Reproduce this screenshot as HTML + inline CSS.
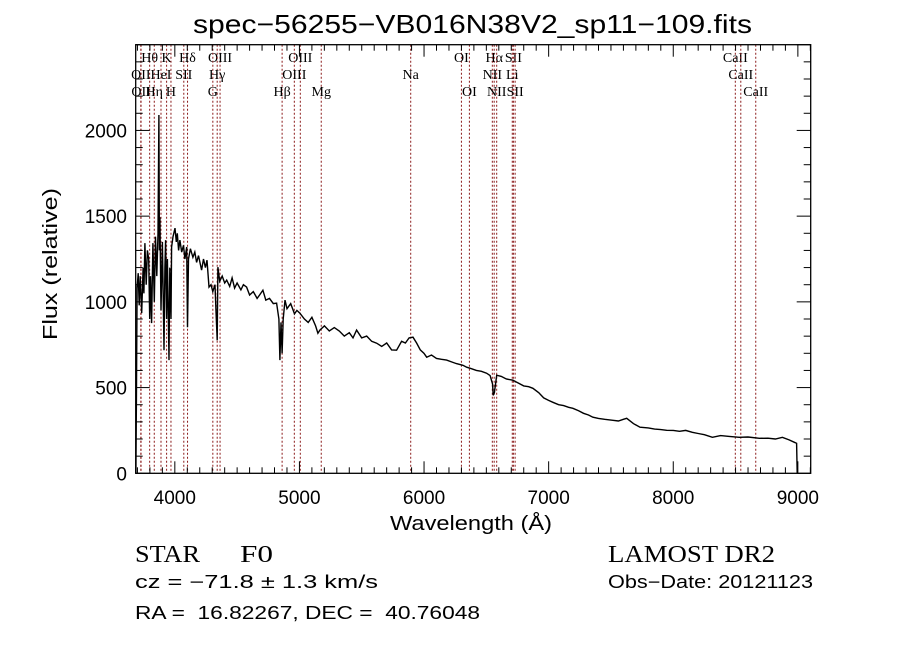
<!DOCTYPE html>
<html><head><meta charset="utf-8"><style>
html,body{margin:0;padding:0;background:#fff;}
svg{display:block;}
text{font-family:"Liberation Sans",sans-serif;fill:#000;}
.serif{font-family:"Liberation Serif",serif;}
</style></head><body>
<svg id="chart" width="900" height="649" viewBox="0 0 900 649" xmlns="http://www.w3.org/2000/svg">
<rect width="900" height="649" fill="#fff"/>
<text x="193" y="33" font-size="26" textLength="559" lengthAdjust="spacingAndGlyphs">spec−56255−VB016N38V2_sp11−109.fits</text>
<g id="lines"></g>
<g id="spec"></g>
<g id="axes"></g>
<text x="390" y="530" font-size="20" textLength="162" lengthAdjust="spacingAndGlyphs">Wavelength (Å)</text>
<text transform="translate(57,340) rotate(-90)" font-size="20" textLength="152" lengthAdjust="spacingAndGlyphs">Flux (relative)</text>
<text class="serif" x="135" y="562" font-size="24" textLength="65" lengthAdjust="spacingAndGlyphs">STAR</text>
<text class="serif" x="240" y="562" font-size="24" textLength="33" lengthAdjust="spacingAndGlyphs">F0</text>
<text class="serif" x="608" y="562" font-size="24" textLength="167" lengthAdjust="spacingAndGlyphs">LAMOST DR2</text>
<text x="135" y="588" font-size="18" textLength="243" lengthAdjust="spacingAndGlyphs">cz = −71.8 ± 1.3 km/s</text>
<text x="608" y="588" font-size="18" textLength="205" lengthAdjust="spacingAndGlyphs">Obs−Date: 20121123</text>
<text x="135" y="619" font-size="18" textLength="345" lengthAdjust="spacingAndGlyphs" style="white-space:pre">RA =  16.82267, DEC =  40.76048</text>
<script>
const wave = [3688,3692,3697,3706,3714,3722,3734,3745,3752,3760,3770,3780,3790,3798,3805,3814,3824,3835,3845,3855,3865,3872,3876,3880,3889,3900,3913,3920,3926,3934,3940,3953,3960,3969,3974,3985,4001,4012,4020,4030,4041,4055,4070,4081,4095,4102,4110,4125,4145,4160,4175,4190,4215,4230,4245,4258,4274,4290,4305,4322,4330,4340,4346,4360,4380,4400,4416,4440,4460,4480,4500,4530,4550,4576,4600,4630,4660,4680,4707,4730,4760,4790,4817,4835,4843,4852,4861,4870,4884,4900,4930,4960,4980,5004,5040,5070,5100,5130,5148,5164,5200,5240,5280,5320,5360,5400,5430,5459,5500,5540,5580,5620,5660,5700,5740,5780,5820,5850,5880,5911,5940,5970,6000,6021,6060,6100,6140,6181,6220,6260,6312,6342,6380,6420,6460,6502,6530,6550,6555,6565,6583,6620,6660,6713,6760,6800,6840,6874,6920,6960,7000,7034,7080,7120,7160,7195,7240,7280,7320,7355,7400,7450,7516,7560,7600,7626,7680,7733,7800,7850,7900,7947,8000,8050,8100,8153,8200,8250,8314,8380,8450,8530,8600,8691,8760,8820,8876,8930,8972,8990,8995];
const flux = [0,420,1080,1167,980,1150,934,1200,1050,1343,1100,1300,1250,900,1150,876,1343,1000,1380,1150,1400,2090,1300,1494,950,1350,718,1200,1360,900,1250,660,1200,900,1320,1380,1430,1350,1400,1300,1360,1290,1330,1250,1320,852,1250,1310,1260,1290,1230,1270,1185,1250,1200,1243,1086,1100,1060,1100,960,776,1203,1120,1150,1110,1127,1090,1140,1080,1110,1070,1100,1086,1040,1060,1020,1040,1068,1010,1020,990,992,900,660,880,700,900,1010,960,990,930,950,934,900,880,910,860,817,835,860,830,850,830,800,820,790,835,790,800,770,759,740,760,720,718,770,760,790,794,760,720,700,677,690,670,665,660,650,640,630,619,610,600,595,584,570,520,455,470,572,565,550,543,525,510,505,496,470,440,425,414,400,395,385,379,365,350,340,327,320,315,309,305,315,321,290,269,265,258,255,251,250,245,250,239,232,225,210,220,215,210,212,204,205,200,210,195,181,175,0];
const lineWaves = [3798,3934,4102,4363,5007,6300,6563,6717,8498,3727,3889,4072,4340,4959,5893,6548,6708,8542,3729,3835,3969,4305,4861,5175,6364,6583,6731,8662];
const lineNames = ["Hθ","K","Hδ","OIII","OIII","OI","Hα","SII","CaII","OII","HeI","SII","Hγ","OIII","Na","NII","Li","CaII","OII","Hη","H","G","Hβ","Mg","OI","NII","SII","CaII"];
const lineRows = [0,0,0,0,0,0,0,0,0,1,1,1,1,1,1,1,1,1,2,2,2,2,2,2,2,2,2,2];
const xTicks = [4000,5000,6000,7000,8000,9000];
const yTicks = [0,500,1000,1500,2000];

const L=135.7,R=810.7,T=44.7,B=473.3;
const X0=3686,X1=9103,Y0=0,Y1=2500;
const NS="http://www.w3.org/2000/svg";
function xs(w){return L+(w-X0)/(X1-X0)*(R-L);}
function ys(f){return B-(f-Y0)/(Y1-Y0)*(B-T);}
function mk(tag,attrs,parent){const e=document.createElementNS(NS,tag);for(const k in attrs)e.setAttribute(k,attrs[k]);parent.appendChild(e);return e;}

const lg=document.getElementById('lines');
lineWaves.forEach((w,i)=>{
  const x=xs(w);
  const ln=mk('line',{x1:x,x2:x,y1:T,y2:B,stroke:'#8b1a1a','stroke-width':1,'stroke-dasharray':'2,2'},lg);
  
  
  const t=mk('text',{x:x,y:62+lineRows[i]*17,'font-size':14,'text-anchor':'middle','class':'serif'},lg);
  t.textContent=lineNames[i];
  
  
});

const sg=document.getElementById('spec');
const pts=wave.map((w,i)=>xs(w).toFixed(1)+','+ys(flux[i]).toFixed(1)).join(' ');
const pl=mk('polyline',{points:pts,fill:'none',stroke:'#000','stroke-width':1.4,'stroke-linejoin':'miter'},sg);



const ag=document.getElementById('axes');
const frame=mk('rect',{x:L,y:T,width:R-L,height:B-T,fill:'none',stroke:'#000','stroke-width':1.3},ag);


for(let w=3700;w<=9100;w+=100){
  const x=xs(w);const major=(w%1000===0);const h=major?12:6;
  mk('line',{x1:x,x2:x,y1:B,y2:B-h,stroke:'#000','stroke-width':1},ag);
  mk('line',{x1:x,x2:x,y1:T,y2:T+h,stroke:'#000','stroke-width':1},ag);
}
xTicks.forEach(w=>{
  const t=mk('text',{x:xs(w),y:504,'font-size':19,'text-anchor':'middle'},ag);
  t.textContent=String(w);
  
  
});
for(let f=0;f<=2500;f+=100){
  const y=ys(f);const major=(f%500===0);const h=major?14:7;
  mk('line',{x1:L,x2:L+h,y1:y,y2:y,stroke:'#000','stroke-width':1},ag);
  mk('line',{x1:R,x2:R-h,y1:y,y2:y,stroke:'#000','stroke-width':1},ag);
}
yTicks.forEach(f=>{
  const t=mk('text',{x:127,y:ys(f)+7,'font-size':19,'text-anchor':'end'},ag);
  t.textContent=String(f);
  
  
});
</script>
</svg>
</body></html>
